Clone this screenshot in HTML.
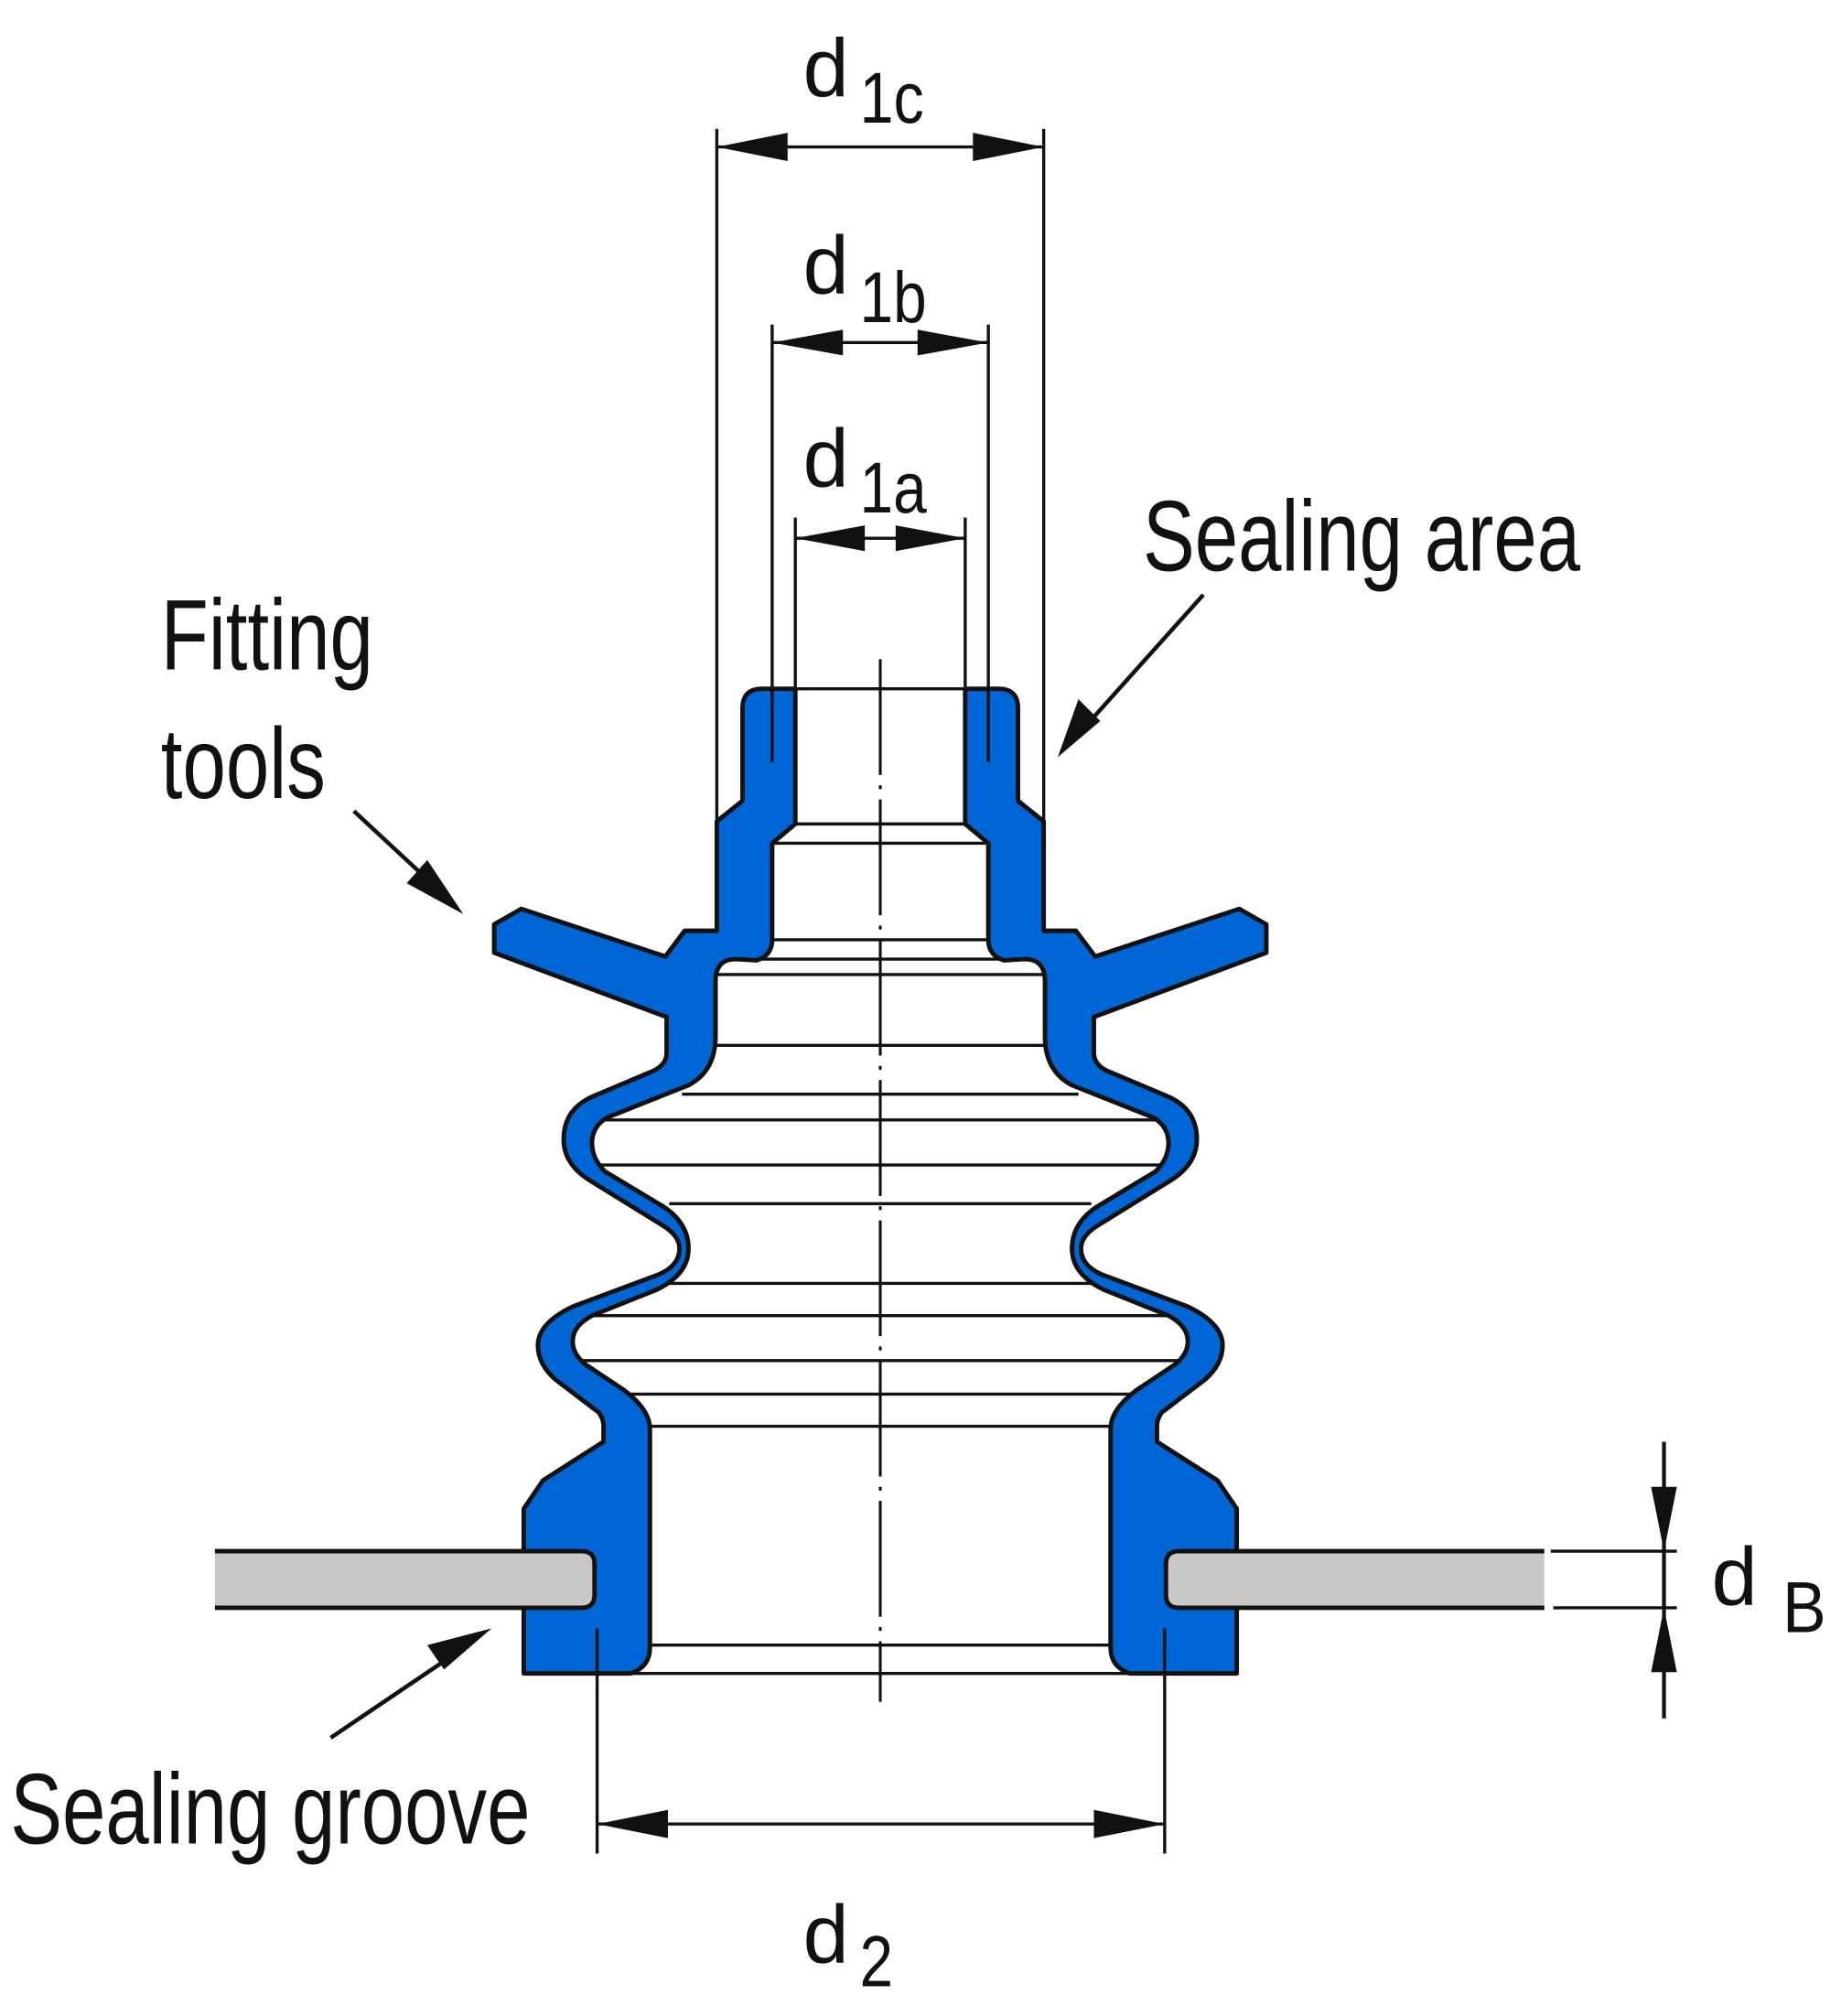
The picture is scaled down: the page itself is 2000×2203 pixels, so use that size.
<!DOCTYPE html>
<html><head><meta charset="utf-8"><style>
html,body{margin:0;padding:0;background:#fff;}
svg{display:block;}
text{font-family:"Liberation Sans",sans-serif;fill:#111;}
</style></head><body>
<svg width="2000" height="2203" viewBox="0 0 1422 1566" xmlns="http://www.w3.org/2000/svg">
<!-- inner horizontal lines -->
<g stroke="#111" stroke-width="2.4" fill="none">
<line x1="618" y1="640" x2="750" y2="640"/>
<line x1="600" y1="655" x2="768" y2="655"/>
<line x1="600" y1="730" x2="768" y2="730"/>
<line x1="570" y1="745" x2="798" y2="745"/>
<line x1="556" y1="757" x2="812" y2="757"/>
<line x1="556" y1="812" x2="812" y2="812"/>
<line x1="530" y1="850" x2="838" y2="850"/>
<line x1="465" y1="870" x2="903" y2="870"/>
<line x1="465" y1="905" x2="903" y2="905"/>
<line x1="520" y1="935" x2="848" y2="935"/>
<line x1="520" y1="997" x2="848" y2="997"/>
<line x1="450" y1="1022" x2="918" y2="1022"/>
<line x1="450" y1="1057" x2="918" y2="1057"/>
<line x1="490" y1="1083" x2="878" y2="1083"/>
<line x1="505" y1="1108" x2="863" y2="1108"/>
<line x1="505" y1="1278" x2="863" y2="1278"/>
<line x1="490" y1="1300" x2="878" y2="1300"/>
<line x1="618" y1="535" x2="750" y2="535"/>
</g>
<!-- blue body -->
<g fill="#0066d6" stroke="#111" stroke-width="3.5" stroke-linejoin="round">
<path d="M618,535 L592,535 Q577,535 577,550 L577,622 L557,638 L557,723 L532,723 L517,743 L405,706 L384,718 L384,740 L518,790 L518,818 Q518,828 505,833 L460,852 Q438,862 438,885 Q438,905 460,918 L515,952 Q528,960 528,970 Q528,983 512,990 L445,1015 Q418,1028 418,1045 Q418,1060 432,1072 L465,1097 Q469,1102 469,1108 L469,1120 L422,1150 L407,1172 L407,1300 L490,1300 Q505,1295 505,1280 L505,1110 Q505,1095 485,1080 L455,1060 Q445,1052 445,1042 Q445,1030 460,1022 L510,1002 Q535,990 535,970 Q535,950 515,937 L470,910 Q460,900 460,888 Q460,875 472,868 L535,843 Q556,832 556,805 L556,762 Q556,745 572,745 L588,746 Q600,742 600,730 L600,655 L618,640 Z"/>
<path d="M167,1205 L452,1205 Q462,1205 462,1215 L462,1239 Q462,1249 452,1249 L167,1249" fill="#c8c8c8"/>
</g>
<g transform="translate(1368,0) scale(-1,1)" fill="#0066d6" stroke="#111" stroke-width="3.5" stroke-linejoin="round">
<path d="M618,535 L592,535 Q577,535 577,550 L577,622 L557,638 L557,723 L532,723 L517,743 L405,706 L384,718 L384,740 L518,790 L518,818 Q518,828 505,833 L460,852 Q438,862 438,885 Q438,905 460,918 L515,952 Q528,960 528,970 Q528,983 512,990 L445,1015 Q418,1028 418,1045 Q418,1060 432,1072 L465,1097 Q469,1102 469,1108 L469,1120 L422,1150 L407,1172 L407,1300 L490,1300 Q505,1295 505,1280 L505,1110 Q505,1095 485,1080 L455,1060 Q445,1052 445,1042 Q445,1030 460,1022 L510,1002 Q535,990 535,970 Q535,950 515,937 L470,910 Q460,900 460,888 Q460,875 472,868 L535,843 Q556,832 556,805 L556,762 Q556,745 572,745 L588,746 Q600,742 600,730 L600,655 L618,640 Z"/>
<path d="M168,1205 L452,1205 Q462,1205 462,1215 L462,1239 Q462,1249 452,1249 L168,1249" fill="#c8c8c8"/>
</g>
<!-- centerline -->
<line x1="684" y1="512" x2="684" y2="1322" stroke="#111" stroke-width="2.2" stroke-dasharray="90,8,3,8"/>
<!-- extension / dimension lines -->
<g stroke="#111" stroke-width="2.4">
<line x1="557" y1="100" x2="557" y2="640"/>
<line x1="811" y1="100" x2="811" y2="650"/>
<line x1="600" y1="252" x2="600" y2="592"/>
<line x1="768" y1="252" x2="768" y2="592"/>
<line x1="618" y1="402" x2="618" y2="640"/>
<line x1="750" y1="402" x2="750" y2="640"/>
<line x1="464" y1="1265" x2="464" y2="1440"/>
<line x1="905" y1="1265" x2="905" y2="1440"/>
<line x1="1205" y1="1205" x2="1303" y2="1205"/>
<line x1="1207" y1="1249" x2="1303" y2="1249"/>
<line x1="557" y1="114" x2="811" y2="114"/>
<line x1="600" y1="266" x2="768" y2="266"/>
<line x1="618" y1="418" x2="750" y2="418"/>
<line x1="464" y1="1417" x2="905" y2="1417"/>
<line x1="1293" y1="1120" x2="1293" y2="1335" stroke-width="3"/>
<line x1="935" y1="462" x2="840" y2="568" stroke-width="3.2"/>
<line x1="275" y1="630" x2="345" y2="695" stroke-width="3.2"/>
<line x1="257" y1="1350" x2="365" y2="1277" stroke-width="3.2"/>
</g>
<!-- arrowheads -->
<g fill="#111">
<polygon points="557,114 612,103 612,125"/>
<polygon points="811,114 756,103 756,125"/>
<polygon points="600,266 655,256 655,276"/>
<polygon points="768,266 713,256 713,276"/>
<polygon points="618,418 672,408 672,428"/>
<polygon points="750,418 696,408 696,428"/>
<polygon points="464,1417 519,1406 519,1428"/>
<polygon points="905,1417 850,1406 850,1428"/>
<polygon points="1293,1205 1283,1155 1303,1155"/>
<polygon points="1293,1249 1283,1299 1303,1299"/>
<polygon points="822,588 838,543 855,560"/>
<polygon points="360,710 316,686 332,668"/>
<polygon points="382,1265 345,1297 332,1278"/>
</g>
<!-- labels -->
<text x="624" y="75" font-size="64">d</text>
<text x="668" y="95" font-size="56" textLength="50" lengthAdjust="spacingAndGlyphs">1c</text>
<text x="624" y="228" font-size="64">d</text>
<text x="668" y="250" font-size="56" textLength="52" lengthAdjust="spacingAndGlyphs">1b</text>
<text x="624" y="378" font-size="64">d</text>
<text x="668" y="398" font-size="56" textLength="52" lengthAdjust="spacingAndGlyphs">1a</text>
<text x="624" y="1525" font-size="64">d</text>
<text x="668" y="1543" font-size="56" textLength="26" lengthAdjust="spacingAndGlyphs">2</text>
<text x="1330" y="1247" font-size="64">d</text>
<text x="1385" y="1268" font-size="56" textLength="34" lengthAdjust="spacingAndGlyphs">B</text>
<text x="888" y="443" font-size="78" textLength="340" lengthAdjust="spacingAndGlyphs">Sealing area</text>
<text x="125" y="520" font-size="78" textLength="165" lengthAdjust="spacingAndGlyphs">Fitting</text>
<text x="125" y="620" font-size="78" textLength="128" lengthAdjust="spacingAndGlyphs">tools</text>
<text x="8" y="1432" font-size="78" textLength="404" lengthAdjust="spacingAndGlyphs">Sealing groove</text>
</svg>
</body></html>
